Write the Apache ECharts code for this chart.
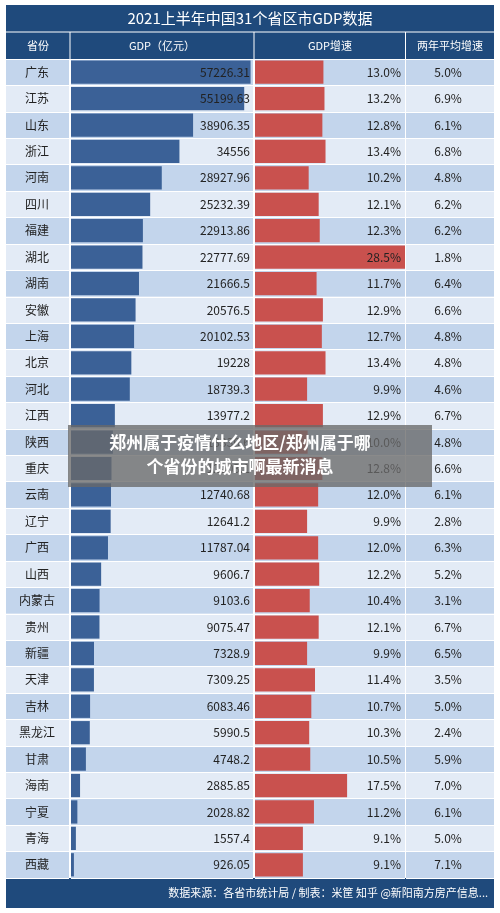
<!DOCTYPE html>
<html>
<head>
<meta charset="utf-8">
<script src="https://cdn.jsdelivr.net/npm/echarts@6/dist/echarts.min.js"></script>
<style>html,body{margin:0;padding:0;background:#fff}#chart{width:500px;height:913px}</style>
</head>
<body>
<div id="chart"></div>
<script>
const provinces = ['广东','江苏','山东','浙江','河南','四川','福建','湖北','湖南','安徽','上海','北京','河北','江西','陕西','重庆','云南','辽宁','广西','山西','内蒙古','贵州','新疆','天津','吉林','黑龙江','甘肃','海南','宁夏','青海','西藏'];
const gdp = [57226.31,55199.63,38906.35,34556,28927.96,25232.39,22913.86,22777.69,21666.5,20576.5,20102.53,19228,18739.3,13977.2,13336.6,12903.1,12740.68,12641.2,11787.04,9606.7,9103.6,9075.47,7328.9,7309.25,6083.46,5990.5,4748.2,2885.85,2028.82,1557.4,926.05];
const growth = [13.0,13.2,12.8,13.4,10.2,12.1,12.3,28.5,11.7,12.9,12.7,13.4,9.9,12.9,10.0,12.8,12.0,9.9,12.0,12.2,10.4,12.1,9.9,11.4,10.7,10.3,10.5,17.5,11.2,9.1,9.1];
const twoYear = [5.0,6.9,6.1,6.8,4.8,6.2,6.2,1.8,6.4,6.6,4.8,4.8,4.6,6.7,4.8,6.6,6.1,2.8,6.3,5.2,3.1,6.7,6.5,3.5,5.0,2.4,5.9,7.0,6.1,5.0,7.1];

const myChart = echarts.init(document.getElementById('chart'));
const tableTop = 59, tableH = 819;
const font = '"Noto Sans CJK SC", sans-serif';
const rowArea = {show: true, areaStyle: {color: ['#c3d5ec', '#e3ebf6']}};
const rowLine = {show: true, lineStyle: {color: '#fff', width: 1}};
const catAxis = (grid, data, labelOpt, pos) => ({
    type: 'category', gridIndex: grid, data: data, inverse: true, position: pos || 'left',
    axisLine: {show: false}, axisTick: {show: false},
    splitArea: rowArea, splitLine: rowLine,
    axisLabel: Object.assign({color: '#222', fontSize: 12, fontFamily: font}, labelOpt)
});
// label-only axis drawn above the bars
const labelAxis = (grid, data, pos, labelOpt) => ({
    type: 'category', gridIndex: grid, data: data, inverse: true, position: pos, z: 5,
    axisLine: {show: false}, axisTick: {show: false},
    axisLabel: Object.assign({inside: true, color: '#222', fontSize: 12, fontFamily: font}, labelOpt)
});
const hidX = (grid, max) => ({type: 'value', gridIndex: grid, min: 0, max: max, show: false});

myChart.setOption({
    animation: false,
    grid: [
        {left: 6, width: 63, top: tableTop, height: tableH},
        {left: 71, width: 182, top: tableTop, height: tableH},
        {left: 255, width: 150, top: tableTop, height: tableH},
        {left: 406, width: 88, top: tableTop, height: tableH}
    ],
    xAxis: [hidX(0, 1), hidX(1, 58000), hidX(2, 28.5), hidX(3, 1)],
    yAxis: [
        catAxis(0, provinces, {inside: true, align: 'center', margin: 31}),
        catAxis(1, provinces, {show: false}),
        labelAxis(1, gdp.map(String), 'right', {margin: 3}),
        catAxis(2, provinces, {show: false}),
        labelAxis(2, growth.map(v => v.toFixed(1) + '%'), 'right', {margin: 4}),
        catAxis(3, twoYear.map(v => v.toFixed(1) + '%'), {inside: true, align: 'center', margin: 42})
    ],
    series: [
        {type: 'bar', xAxisIndex: 1, yAxisIndex: 1, data: gdp, barWidth: '88%', z: 1,
            itemStyle: {color: '#3b6197'}},
        {type: 'bar', xAxisIndex: 2, yAxisIndex: 3, data: growth, barWidth: '88%', z: 1,
            itemStyle: {color: '#c9514e'}}
    ],
    graphic: [
        {type: 'rect', shape: {x: 6, y: 5, width: 488, height: 54}, style: {fill: '#1f4a7c'}, z: 0},
        {type: 'rect', shape: {x: 6, y: 878, width: 488, height: 30}, style: {fill: '#1f4a7c'}, z: 0},
        {type: 'line', shape: {x1: 6, y1: 32, x2: 494, y2: 32}, style: {stroke: '#fff', lineWidth: 1}},
        {type: 'line', shape: {x1: 70, y1: 32, x2: 70, y2: 59}, style: {stroke: '#fff', lineWidth: 1}},
        {type: 'line', shape: {x1: 254, y1: 32, x2: 254, y2: 59}, style: {stroke: '#fff', lineWidth: 1}},
        {type: 'line', shape: {x1: 405.5, y1: 32, x2: 405.5, y2: 59}, style: {stroke: '#fff', lineWidth: 1}},
        {type: 'text', x: 250, y: 18.5, style: {text: '2021上半年中国31个省区市GDP数据', fill: '#fff', font: '15px ' + font, align: 'center', verticalAlign: 'middle'}},
        {type: 'text', x: 38, y: 46, style: {text: '省份', fill: '#fff', font: '11px ' + font, align: 'center', verticalAlign: 'middle'}},
        {type: 'text', x: 162, y: 46, style: {text: 'GDP（亿元）', fill: '#fff', font: '11px ' + font, align: 'center', verticalAlign: 'middle'}},
        {type: 'text', x: 330, y: 46, style: {text: 'GDP增速', fill: '#fff', font: '11px ' + font, align: 'center', verticalAlign: 'middle'}},
        {type: 'text', x: 450, y: 46, style: {text: '两年平均增速', fill: '#fff', font: '11px ' + font, align: 'center', verticalAlign: 'middle'}},
        {type: 'text', x: 488, y: 893, style: {text: '数据来源：各省市统计局 / 制表：米筐 知乎 @新阳南方房产信息...', fill: '#fff', font: '11px ' + font, align: 'right', verticalAlign: 'middle'}},
        {type: 'rect', shape: {x: 68, y: 425, width: 364, height: 62}, style: {fill: 'rgba(105,105,105,0.78)'}, z: 10},
        {type: 'text', x: 240, y: 443, z: 11, style: {text: '郑州属于疫情什么地区/郑州属于哪', fill: '#fff', font: 'bold 17px ' + font, align: 'center', verticalAlign: 'middle'}},
        {type: 'text', x: 240, y: 467, z: 11, style: {text: '个省份的城市啊最新消息', fill: '#fff', font: 'bold 17px ' + font, align: 'center', verticalAlign: 'middle'}}
    ]
});
</script>
</body>
</html>
